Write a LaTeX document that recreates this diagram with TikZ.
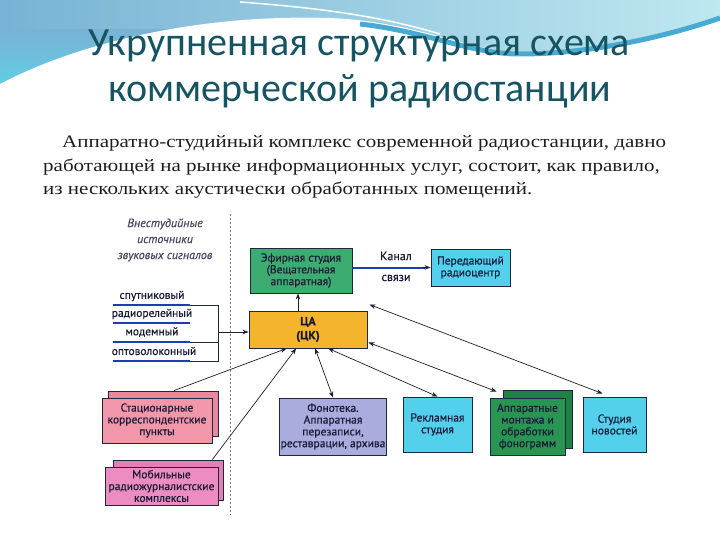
\documentclass[tikz,border=0pt]{standalone}
\usepackage{fontspec}
\setmainfont{Liberation Serif}
\newfontfamily\bodyfont[FakeStretch=1.2]{Liberation Serif}
\newfontfamily\titlefont{Carlito}
\newfontfamily\diafont[FakeBold=0.4]{PT Sans}
\usetikzlibrary{arrows.meta,calc}
\definecolor{bgA}{RGB}{120,178,212}
\definecolor{bgB}{RGB}{190,232,240}
\definecolor{bgC}{RGB}{95,208,230}
\definecolor{band}{RGB}{70,170,210}
\definecolor{titlec}{RGB}{22,84,98}
\definecolor{bodyc}{RGB}{30,30,30}
\definecolor{txt}{RGB}{25,25,55}
\definecolor{boxline}{RGB}{30,40,60}
\definecolor{arrc}{RGB}{30,30,50}
\definecolor{efir}{RGB}{60,172,112}
\definecolor{cyanA}{RGB}{82,208,236}
\definecolor{orangeA}{RGB}{244,180,44}
\definecolor{lav}{RGB}{170,172,222}
\definecolor{greenB}{RGB}{40,150,82}
\definecolor{greenBb}{RGB}{30,130,70}
\definecolor{pinkA}{RGB}{242,150,170}
\definecolor{pinkAb}{RGB}{236,135,160}
\definecolor{pinkB}{RGB}{236,140,192}
\definecolor{pinkBb}{RGB}{226,128,182}
\definecolor{blueL}{RGB}{30,60,180}
\definecolor{dashc}{RGB}{120,120,130}
\tikzset{
  box/.style={draw=boxline, line width=0.9pt, font=\diafont\fontsize{11.5}{11.8}\selectfont,
    text=txt, align=center, inner sep=1pt},
  arr/.style={-{Stealth[length=6pt,width=4.5pt]}, line width=0.7pt, draw=arrc},
  darr/.style={{Stealth[length=6pt,width=4.5pt]}-{Stealth[length=6pt,width=4.5pt]}, line width=0.7pt, draw=arrc},
  lbl/.style={font=\diafont\fontsize{11.5}{12}\selectfont, text=txt, inner sep=0pt},
  bluel/.style={draw=blueL, line width=2.4pt},
  blackl/.style={draw=boxline, line width=0.8pt},
  bodyt/.style={font=\bodyfont\fontsize{17.5}{20}\selectfont, text=bodyc, inner sep=0pt, anchor=base west},
  titlet/.style={font=\titlefont\fontsize{40}{44}\selectfont, text=titlec, inner sep=0pt}
}
\begin{document}
\begin{tikzpicture}[x=1pt,y=-1pt]
\useasboundingbox (0,0) rectangle (720,540);
\fill[white] (0,0) rectangle (720,540);
% background swoosh
\shade[left color=bgA, right color=bgB] (0,0) rectangle (720,100);
\shade[top color=bgA, bottom color=bgC] (0,30) rectangle (180,90);
\fill[white] (0,84) .. controls (80,42) and (200,14) .. (330,18)
  .. controls (420,22) and (470,52) .. (520,52)
  .. controls (600,52) and (680,32) .. (720,20) -- (720,540) -- (0,540) -- cycle;
\draw[band, line width=5pt] (360,24) .. controls (430,32) and (470,54) .. (520,54)
  .. controls (600,54) and (680,32) .. (720,18);
\draw[white, line width=1.5pt] (240,2) .. controls (320,8) and (380,16) .. (440,34);
% title
\node[titlet] (t1) at (359,46) {Укрупненная структурная схема};
\node[titlet] (t2) at (360,91) {коммерческой радиостанции};
% body text
\node[bodyt] (b1) at (62,148) {Аппаратно-студийный комплекс современной радиостанции, давно};
\node[bodyt] (b2) at (43,172) {работающей на рынке информационных услуг, состоит, как правило,};
\node[bodyt] (b3) at (43,195) {из нескольких акустически обработанных помещений.};
% dashed separator
\draw[dashc, line width=0.7pt, dash pattern=on 2pt off 2pt] (230,214) -- (230,515);
% external sources caption
\node[lbl, font=\diafont\itshape\fontsize{12}{16}\selectfont, align=center, text=txt!80] (vn) at (165,240)
  {Внестудийные\\источники\\звуковых сигналов};
% boxes
\node[box, fill=efir, minimum width=102pt, minimum height=45pt] (efir) at (301,270.5)
  {Эфирная студия\\(Вещательная\\аппаратная)};
\node[box, fill=cyanA, minimum width=79pt, minimum height=37pt] (prc) at (470.5,267.5)
  {Передающий\\радиоцентр};
\node[box, fill=orangeA, minimum width=118pt, minimum height=37pt, font=\diafont\bfseries\fontsize{12}{14}\selectfont] (ca) at (308,329.5)
  {ЦА\\(ЦК)};
\node[box, fill=lav, minimum width=105pt, minimum height=57pt] (fon) at (333,426.5)
  {Фонотека.\\Аппаратная\\перезаписи,\\реставрации, архива};
\node[box, fill=cyanA, minimum width=69pt, minimum height=55pt] (rek) at (437.5,424.5)
  {Рекламная\\студия};
\node[box, fill=greenBb, minimum width=69pt, minimum height=58pt] (appb) at (537.5,419) {};
\node[box, fill=greenB, minimum width=75pt, minimum height=57pt] (app) at (527.5,426.5)
  {Аппаратные\\монтажа и\\обработки\\фонограмм};
\node[box, fill=cyanA, minimum width=63pt, minimum height=55pt] (nov) at (614.5,424.5)
  {Студия\\новостей};
\node[box, fill=pinkAb, minimum width=110pt, minimum height=45pt] (stb) at (163,413.5) {};
\node[box, fill=pinkA, minimum width=110pt, minimum height=45pt] (st) at (157,420.5)
  {Стационарные\\корреспондентские\\пункты};
\node[box, fill=pinkBb, minimum width=110pt, minimum height=40pt] (mobb) at (168,480) {};
\node[box, fill=pinkB, minimum width=113pt, minimum height=38pt] (mob) at (161.5,486)
  {Мобильные\\радиожурналистские\\комплексы};
% channel
\draw[blueL, line width=2pt] (efir.east |- prc.west) -- ($(prc.west)+(-6,0)$);
\draw[arr] ($(prc.west)+(-8,0)$) -- (prc.west);
\node[lbl, font=\diafont\fontsize{12}{12}\selectfont] (kan) at (396,256) {Канал};
\node[lbl, font=\diafont\fontsize{12}{12}\selectfont] (svz) at (396,278) {связи};
% ЦА -> efir
\draw[arr] (ca.north -| 298,0) -- (efir.south -| 298,0);
% left list
\node[lbl] (l1) at (152,296) {спутниковый};
\node[lbl] (l2) at (152,314) {радиорелейный};
\node[lbl] (l3) at (152,332) {модемный};
\node[lbl] (l4) at (154,351) {оптоволоконный};
\coordinate (r1) at (218,305);
\coordinate (r3) at (218,342);
\coordinate (r4) at (218,361);
\coordinate (lj) at (218,332);
\draw[blackl] (113,305) -- (r1) -- (r4) -- (113,361);
\draw[blackl] (113,342) -- (r3);
\draw[bluel] (113,305) -- (190,305);
\draw[bluel] (113,323) -- (190,323);
\draw[bluel] (113,342) -- (190,342);
\draw[bluel] (113,361) -- (190,361);
\draw[arr] (lj) -- (ca.west |- lj);
% correspondents -> ЦА
\draw[arr] ($(stb.north west)!0.6!(stb.north east)$) -- ($(ca.south west)!0.32!(ca.south east)$);
\draw[arr] ($(mobb.north west)!0.9!(mobb.north east)$) -- ($(ca.south west)!0.40!(ca.south east)$);
% ЦА <-> studios
\draw[darr] ($(ca.south west)!0.56!(ca.south east)$) -- (fon.north);
\draw[darr] ($(ca.south west)!0.67!(ca.south east)$) -- (rek.north);
\draw[darr] ($(ca.south east)+(1,-6)$) -- ($(app.north west)+(7,-6)$);
\draw[darr] ($(ca.north east)+(2,-6)$) -- ($(nov.north west)+(20,-3)$);
\end{tikzpicture}
\end{document}
